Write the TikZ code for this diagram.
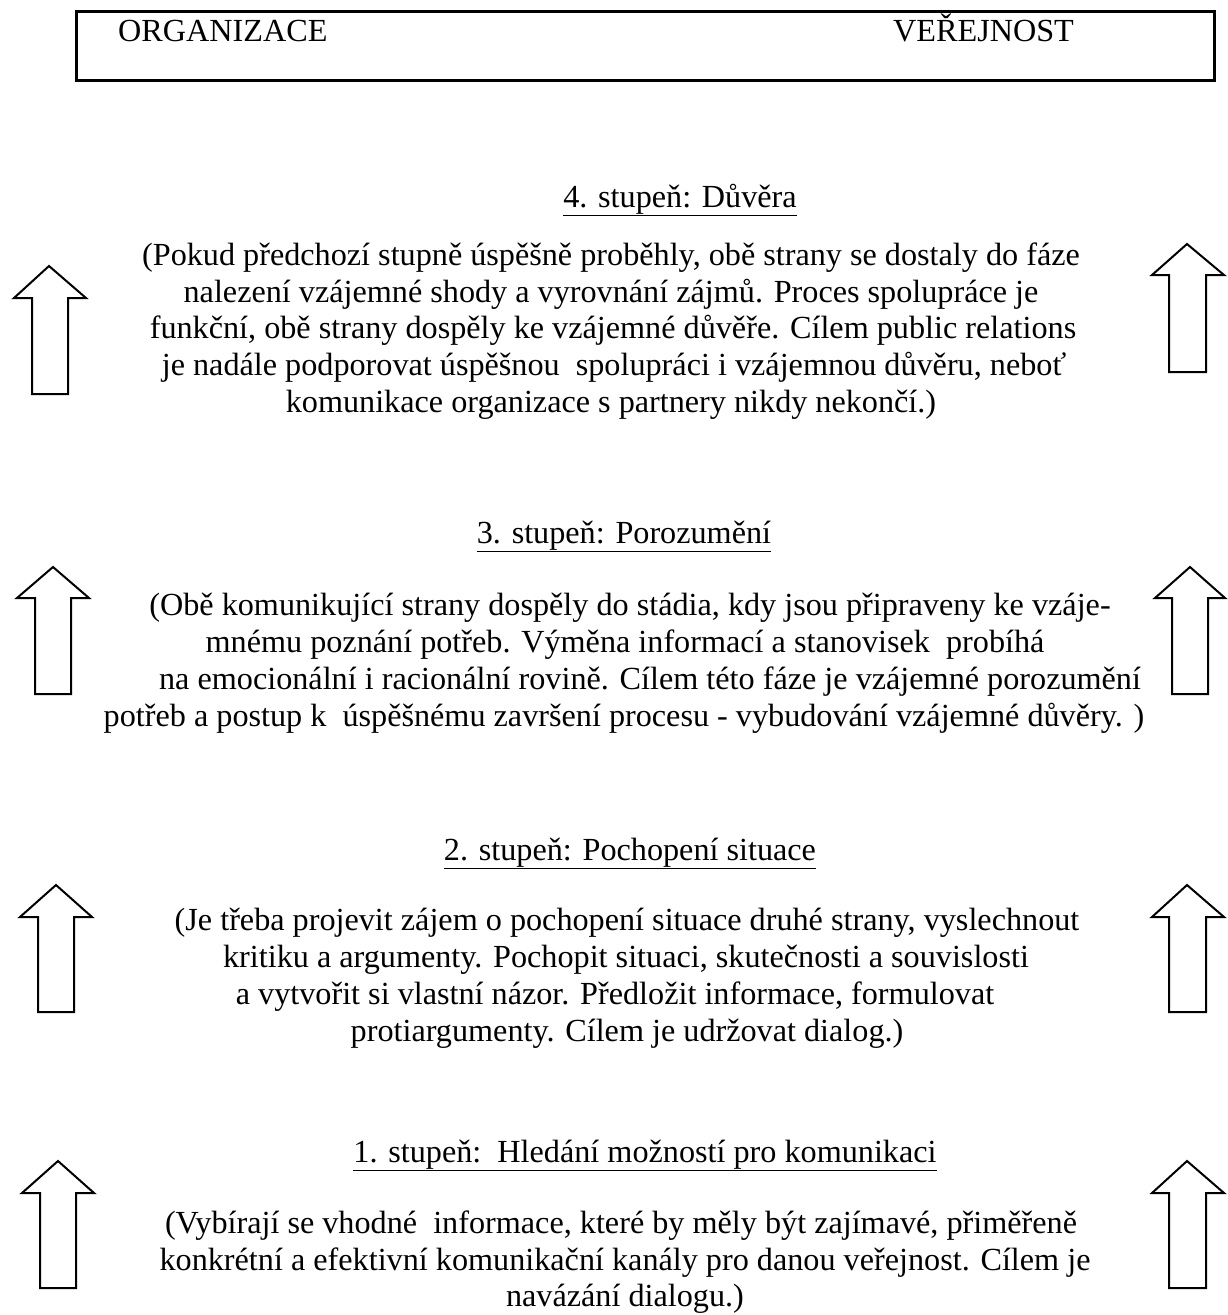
\documentclass[tikz,border=0pt]{standalone}
\usepackage{fontspec}
\setmainfont{Liberation Serif}
\begin{document}
\begin{tikzpicture}[x=1pt,y=-1pt,
  ln/.style={anchor=base,inner sep=0pt,font=\fontsize{32.2}{37}\selectfont},
  hd/.style={ln},
  upar/.style={draw=black,line width=2pt,fill=white,line join=miter},
  frame/.style={draw=black,line width=3pt}]
\useasboundingbox (0,0) rectangle (1227,1315);
% top box
\draw[frame] (76,11) rectangle (1214,80);
\node[ln,anchor=base west] (org) at (118,41) {ORGANIZACE};
\node[ln,anchor=base west] (ver) at (893,41) {VEŘEJNOST};
% level 4
\node[hd] (h4) at (680,207) {\underline{4. stupeň: Důvěra}};
\node[ln] (p4a) at (611,265) {(Pokud předchozí stupně úspěšně proběhly, obě strany se dostaly do fáze};
\node[ln] (p4b) at (611,302) {nalezení vzájemné shody a vyrovnání zájmů. Proces spolupráce je};
\node[ln] (p4c) at (613,338) {funkční, obě strany dospěly ke vzájemné důvěře. Cílem public relations};
\node[ln] (p4d) at (614,375) {je nadále podporovat úspěšnou\ \ spolupráci i vzájemnou důvěru, neboť};
\node[ln] (p4e) at (611,412) {komunikace organizace s partnery nikdy nekončí.)};
% level 3
\node[hd] (h3) at (624,543) {\underline{3. stupeň: Porozumění}};
\node[ln] (p3a) at (630,615) {(Obě komunikující strany dospěly do stádia, kdy jsou připraveny ke vzáje-};
\node[ln] (p3b) at (625,652) {mnému poznání potřeb. Výměna informací a stanovisek\ \ probíhá};
\node[ln] (p3c) at (650,689) {na emocionální i racionální rovině. Cílem této fáze je vzájemné porozumění};
\node[ln] (p3d) at (624,726) {potřeb a postup k\ \ úspěšnému završení procesu - vybudování vzájemné důvěry. )};
% level 2
\node[hd] (h2) at (630,860) {\underline{2. stupeň: Pochopení situace}};
\node[ln] (p2a) at (627,930) {(Je třeba projevit zájem o pochopení situace druhé strany, vyslechnout};
\node[ln] (p2b) at (626,967) {kritiku a argumenty. Pochopit situaci, skutečnosti a souvislosti};
\node[ln] (p2c) at (615,1004) {a vytvořit si vlastní názor. Předložit informace, formulovat};
\node[ln] (p2d) at (627,1041) {protiargumenty. Cílem je udržovat dialog.)};
% level 1
\node[hd] (h1) at (645,1162) {\underline{1. stupeň:\ \ Hledání možností pro komunikaci}};
\node[ln] (p1a) at (621,1233) {(Vybírají se vhodné\ \ informace, které by měly být zajímavé, přiměřeně};
\node[ln] (p1b) at (625,1270) {konkrétní a efektivní komunikační kanály pro danou veřejnost. Cílem je};
\node[ln] (p1c) at (625,1306) {navázání dialogu.)};
% arrows left
\draw[upar] (49,266) -- (86,298) -- (68,298) -- (68,394) -- (32,394) -- (32,298) -- (14,298) -- cycle;
\draw[upar] (53,567) -- (89,598) -- (71,598) -- (71,694) -- (35,694) -- (35,598) -- (17,598) -- cycle;
\draw[upar] (56,885) -- (92,917) -- (74,917) -- (74,1012) -- (38,1012) -- (38,917) -- (20,917) -- cycle;
\draw[upar] (58,1161) -- (94,1193) -- (76,1193) -- (76,1288) -- (40,1288) -- (40,1193) -- (22,1193) -- cycle;
% arrows right
\draw[upar] (1187,244) -- (1224,275) -- (1206,275) -- (1206,372) -- (1169,372) -- (1169,275) -- (1152,275) -- cycle;
\draw[upar] (1190,567) -- (1225,598) -- (1208,598) -- (1208,694) -- (1172,694) -- (1172,598) -- (1155,598) -- cycle;
\draw[upar] (1187,885) -- (1224,917) -- (1206,917) -- (1206,1012) -- (1169,1012) -- (1169,917) -- (1152,917) -- cycle;
\draw[upar] (1187,1161) -- (1224,1193) -- (1206,1193) -- (1206,1288) -- (1169,1288) -- (1169,1193) -- (1152,1193) -- cycle;
\end{tikzpicture}
\end{document}
